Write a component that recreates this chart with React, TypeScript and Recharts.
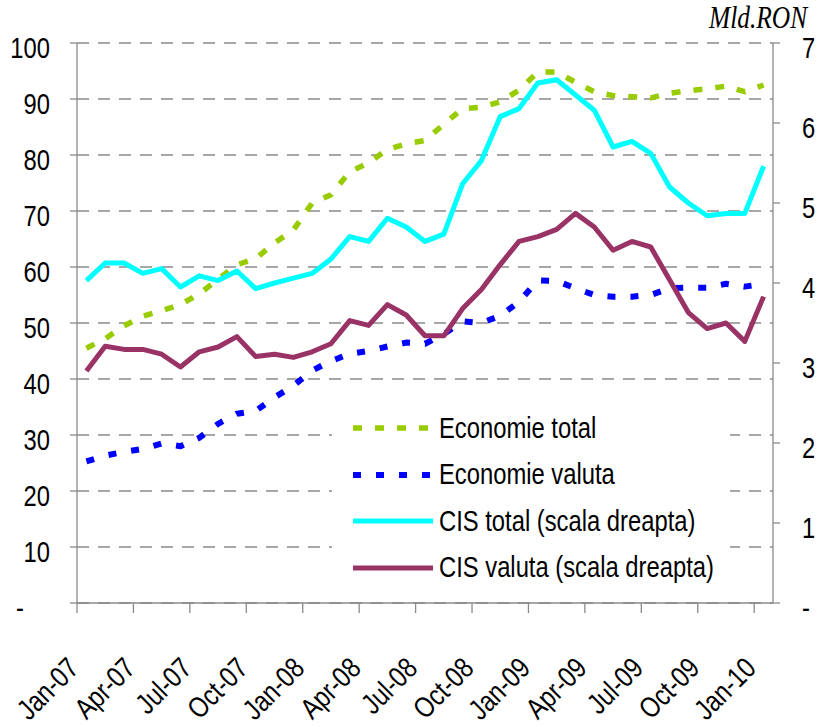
import { LineChart, Line, XAxis, YAxis, CartesianGrid, Legend } from 'recharts';

const months = [
  'Jan-07', 'Feb-07', 'Mar-07', 'Apr-07', 'May-07', 'Jun-07', 'Jul-07', 'Aug-07', 'Sep-07', 'Oct-07', 'Nov-07', 'Dec-07',
  'Jan-08', 'Feb-08', 'Mar-08', 'Apr-08', 'May-08', 'Jun-08', 'Jul-08', 'Aug-08', 'Sep-08', 'Oct-08', 'Nov-08', 'Dec-08',
  'Jan-09', 'Feb-09', 'Mar-09', 'Apr-09', 'May-09', 'Jun-09', 'Jul-09', 'Aug-09', 'Sep-09', 'Oct-09', 'Nov-09', 'Dec-09',
  'Jan-10',
];

// left scale (economie)
const economieTotal = [
  45.5, 47.2, 49.5, 51.2, 52.2, 53.3, 55.2, 57.8, 60.4, 61.5, 64.3, 66.6,
  71.4, 72.9, 77.0, 78.6, 81.0, 82.0, 82.6, 85.5, 88.3, 88.5, 89.5, 91.6,
  94.8, 94.8, 93.0, 91.3, 90.6, 90.4, 90.2, 91.0, 91.5, 91.8, 92.3, 91.3,
  92.5,
];
const economieValuta = [
  25.3, 26.3, 27.0, 27.5, 28.5, 28.0, 29.5, 32.0, 33.8, 34.3, 36.7, 38.8,
  41.5, 43.2, 44.5, 45.0, 45.8, 46.5, 46.3, 48.0, 50.3, 50.0, 51.3, 53.8,
  57.6, 57.5, 56.2, 55.0, 54.7, 54.7, 55.0, 56.2, 56.3, 56.3, 57.0, 56.5,
  57.0,
];

// right scale (CIS)
const cisTotal = [
  4.03, 4.25, 4.25, 4.12, 4.18, 3.95, 4.09, 4.03, 4.15, 3.93, 4.0, 4.06,
  4.12, 4.3, 4.58, 4.52, 4.81, 4.7, 4.52, 4.61, 5.24, 5.53, 6.08, 6.18,
  6.5, 6.54, 6.35, 6.16, 5.7, 5.77, 5.62, 5.2, 5.0, 4.84, 4.87, 4.87,
  5.46,
];
const cisValuta = [
  2.9, 3.21, 3.17, 3.17, 3.11, 2.95, 3.14, 3.2, 3.33, 3.08, 3.11, 3.07,
  3.14, 3.24, 3.53, 3.47, 3.73, 3.6, 3.34, 3.34, 3.68, 3.92, 4.23, 4.52,
  4.58, 4.67, 4.87, 4.7, 4.41, 4.52, 4.45, 4.04, 3.63, 3.43, 3.5, 3.27,
  3.83,
];

const leftTicks = [0, 10, 20, 30, 40, 50, 60, 70, 80, 90, 100];
const rightTicks = [0, 1, 2, 3, 4, 5, 6, 7];
const labelTicks = [0, 3, 6, 9, 12, 15, 18, 21, 24, 27, 30, 33, 36];

const data = months.map((month, idx) => ({
  idx,
  month,
  economieTotal: economieTotal[idx],
  economieValuta: economieValuta[idx],
  cisTotal: cisTotal[idx],
  cisValuta: cisValuta[idx],
}));

const series = [
  { key: 'economieTotal', name: 'Economie total', color: '#99cc00', width: 5.5, dash: '9 13', axis: 'left' },
  { key: 'economieValuta', name: 'Economie valuta', color: '#0000ff', width: 6, dash: '8 15', axis: 'left' },
  { key: 'cisTotal', name: 'CIS total (scala dreapta)', color: '#00ffff', width: 5, dash: undefined, axis: 'right' },
  { key: 'cisValuta', name: 'CIS valuta (scala dreapta)', color: '#993366', width: 5, dash: undefined, axis: 'right' },
];

const W = 817;
const H = 727;
const LEFT_W = 77;
const RIGHT_W = 44;
const HALF_BAND = (W - LEFT_W - RIGHT_W) / months.length / 2;

const FONT = "'Liberation Sans', Arial, sans-serif";
const SQUEEZE = 0.82; // reference text is narrow (Calibri, squeezed)
const GREY = '#8a8a8a';

// narrow text helper: anchor point + horizontal squeeze
const NarrowText = ({ x, y, anchor, rotate = 0, children }: any) => (
  <g transform={`translate(${x} ${y}) rotate(${rotate}) scale(${SQUEEZE} 1)`}>
    <text x={0} y={0} textAnchor={anchor} fontFamily={FONT} fontSize={29} fill="#000">
      {children}
    </text>
  </g>
);

const LeftTick = ({ x, y, payload }: any) => {
  const zero = payload.value === 0;
  return (
    <NarrowText x={zero ? 16 : x} y={y + 15} anchor={zero ? 'start' : 'end'}>
      {zero ? '-' : payload.value}
    </NarrowText>
  );
};

const RightTick = ({ x, y, payload }: any) => (
  <NarrowText x={x} y={y + 15} anchor="start">
    {payload.value === 0 ? '-' : payload.value}
  </NarrowText>
);

// Excel style: tick mark on the category boundary, label on the category
const MonthTick = ({ x, y, payload }: any) => (
  <g>
    <line x1={x - HALF_BAND} y1={y} x2={x - HALF_BAND} y2={y + 10} stroke={GREY} strokeWidth={1.3} />
    <NarrowText x={x - 6} y={y + 67} anchor="end" rotate={-45}>
      {months[payload.value]}
    </NarrowText>
  </g>
);

const LegendBox = ({ payload }: any) => {
  const entries = [...(payload || [])].sort(
    (a: any, b: any) =>
      series.findIndex((s) => s.key === a.dataKey) - series.findIndex((s) => s.key === b.dataKey),
  );
  return (
    <div style={{ background: '#fff', width: 398, height: 188, fontFamily: FONT, fontSize: 29, color: '#000' }}>
      {entries.map((entry: any) => {
        const s = series.find((v) => v.key === entry.dataKey) || series[0];
        return (
          <div key={s.key} style={{ display: 'flex', alignItems: 'center', height: 46.5 }}>
            <svg width={80} height={10} style={{ marginLeft: 21, flex: 'none' }}>
              <line x1={0} y1={5} x2={80} y2={5} stroke={s.color} strokeWidth={s.width} strokeDasharray={s.dash} />
            </svg>
            <span
              style={{
                marginLeft: 6,
                whiteSpace: 'nowrap',
                display: 'inline-block',
                transform: `scaleX(${SQUEEZE})`,
                transformOrigin: 'left center',
              }}
            >
              {entry.value}
            </span>
          </div>
        );
      })}
    </div>
  );
};

export default function App() {
  return (
    <div style={{ position: 'absolute', left: 0, top: 0, width: W, height: H, background: '#fff' }}>
      <LineChart width={W} height={H} data={data} margin={{ top: 43, right: 0, left: 0, bottom: 0 }}>
        <CartesianGrid
          yAxisId="left"
          vertical={false}
          stroke={GREY}
          strokeWidth={1.3}
          strokeDasharray="12 9"
        />
        <XAxis
          dataKey="idx"
          type="number"
          domain={[-0.5, 36.5]}
          ticks={labelTicks}
          interval={0}
          tick={<MonthTick />}
          tickLine={false}
          tickSize={0}
          tickMargin={0}
          height={124}
          stroke={GREY}
          strokeWidth={1.3}
        />
        <YAxis
          yAxisId="left"
          width={LEFT_W}
          domain={[0, 100]}
          ticks={leftTicks}
          interval={0}
          tickSize={7}
          tickMargin={20}
          tick={<LeftTick />}
          stroke={GREY}
          strokeWidth={1.3}
        />
        <YAxis
          yAxisId="right"
          orientation="right"
          width={RIGHT_W}
          domain={[0, 7]}
          ticks={rightTicks}
          interval={0}
          tickSize={7}
          tickMargin={22}
          tick={<RightTick />}
          stroke={GREY}
          strokeWidth={1.3}
        />
        <Legend
          layout="vertical"
          verticalAlign="middle"
          align="center"
          content={<LegendBox />}
          wrapperStyle={{ position: 'absolute', left: 332, top: 405, width: 398, height: 188 }}
        />
        {series.map((s) => (
          <Line
            key={s.key}
            yAxisId={s.axis}
            type="linear"
            dataKey={s.key}
            name={s.name}
            stroke={s.color}
            strokeWidth={s.width}
            strokeDasharray={s.dash}
            strokeLinejoin="round"
            dot={false}
            activeDot={false}
            isAnimationActive={false}
          />
        ))}
      </LineChart>
      <div
        style={{
          position: 'absolute',
          left: 709,
          top: 10,
          height: 16,
          lineHeight: '16px',
          fontFamily: "'Liberation Serif', 'Times New Roman', serif",
          fontStyle: 'italic',
          fontSize: 31,
          color: '#000',
          transform: 'scaleX(0.82)',
          transformOrigin: 'left top',
          whiteSpace: 'nowrap',
        }}
      >
        Mld.RON
      </div>
    </div>
  );
}
